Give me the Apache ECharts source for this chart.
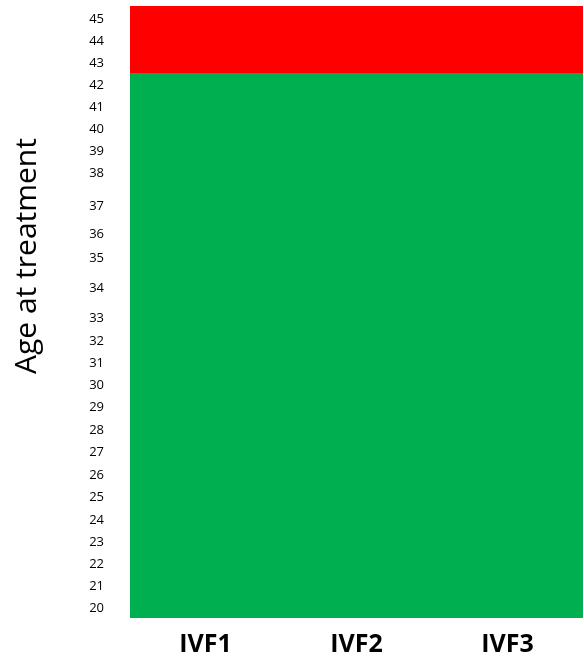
<!DOCTYPE html>
<html>
<head>
<meta charset="utf-8">
<style>html,body{margin:0;padding:0;background:#fff;}#chart{width:584px;height:659px;}</style>
<script src="https://cdn.jsdelivr.net/npm/echarts@6/dist/echarts.min.js"></script>
</head>
<body>
<div id="chart"></div>
<script>
// Categories
const treatments = ['IVF1', 'IVF2', 'IVF3'];
const ages = [20,21,22,23,24,25,26,27,28,29,30,31,32,33,34,35,36,37,38,39,40,41,42,43,44,45];
// Status per age (1 = green / acceptable, 0 = red), one array per treatment
const ivf1Status = [1,1,1,1,1,1,1,1,1,1,1,1,1,1,1,1,1,1,1,1,1,1,1,0,0,0];
const ivf2Status = [1,1,1,1,1,1,1,1,1,1,1,1,1,1,1,1,1,1,1,1,1,1,1,0,0,0];
const ivf3Status = [1,1,1,1,1,1,1,1,1,1,1,1,1,1,1,1,1,1,1,1,1,1,1,0,0,0];
// Relative row heights of the original sheet (rows are not all equal)
const rowHeights = [22,22,22,22,23,22,23,22,23,22,22,22,23,30,30,24,28,33,22,22,22,22,22,22,22,23];

const statusByTreatment = [ivf1Status, ivf2Status, ivf3Status];
const GREEN = '#00B050', RED = '#FF0000';

let total = 0;
const lowerEdges = [];
rowHeights.forEach(h => { lowerEdges.push(total); total += h; });

const series = ages.map((age, i) => ({
  type: 'bar',
  stack: 'rows',
  name: String(age),
  barCategoryGap: '0%',
  barGap: '0%',
  silent: true,
  data: treatments.map((t, j) => ({
    value: rowHeights[i],
    itemStyle: { color: statusByTreatment[j][i] ? GREEN : RED }
  }))
}));

const chart = echarts.init(document.getElementById('chart'), null, {renderer: 'canvas'});
chart.setOption({
  animation: false,
  grid: { left: 130, right: 1, top: 6, bottom: 41, containLabel: false },
  xAxis: {
    type: 'category',
    data: treatments,
    axisLine: { show: false },
    axisTick: { show: false },
    axisLabel: { margin: 14, fontFamily: 'Open Sans', fontWeight: 'bold', fontSize: 25, color: '#000' }
  },
  yAxis: {
    type: 'value',
    min: 0,
    max: total,
    axisLine: { show: false },
    axisTick: { show: false },
    splitLine: { show: false },
    axisLabel: {
      customValues: lowerEdges,
      formatter: v => String(ages[lowerEdges.indexOf(v)]),
      verticalAlign: 'bottom',
      padding: [0, 0, 3, 0],
      margin: 26,
      fontFamily: 'Open Sans',
      fontSize: 13,
      color: '#000'
    }
  },
  graphic: [{
    type: 'text',
    x: 27,
    y: 256,
    rotation: Math.PI / 2,
    style: {
      text: 'Age at treatment',
      fontFamily: 'Open Sans',
      fontSize: 30,
      fill: '#000',
      textAlign: 'center',
      textVerticalAlign: 'middle'
    }
  }],
  series: series
});
</script>
</body>
</html>
